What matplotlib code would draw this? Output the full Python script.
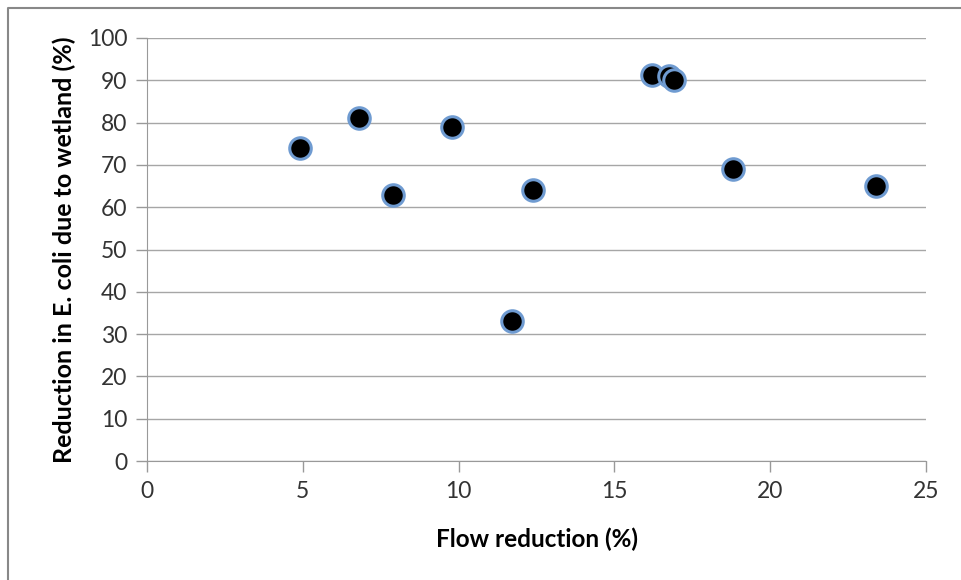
import matplotlib.pyplot as plt
from matplotlib.lines import Line2D

# data
flow_reduction = [4.9, 6.8, 7.9, 9.8, 11.7, 12.4, 16.2, 16.75, 16.9, 18.8, 23.4]
ecoli_reduction = [74, 81, 63, 79, 33, 64, 91.3, 91, 90, 69, 65]
x_ticks = [0, 5, 10, 15, 20, 25]
y_ticks = list(range(0, 101, 10))

plt.rcParams['font.family'] = ['Lato', 'DejaVu Sans']

fig = plt.figure(figsize=(9.61, 5.80), dpi=100)
ax = fig.add_axes([0.153, 0.205, 0.8107, 0.7295])

ax.scatter(flow_reduction, ecoli_reduction, s=240, c='black',
           edgecolors='#6f9bd1', linewidths=2.2, zorder=3)

ax.set_xlim(0, 25)
ax.set_ylim(0, 100)
ax.set_xticks(x_ticks)
ax.set_yticks(y_ticks)
ax.grid(axis='y', color='#a6a6a6', linewidth=1)
ax.set_axisbelow(True)

for side in ('top', 'right'):
    ax.spines[side].set_visible(False)
for side in ('left', 'bottom'):
    ax.spines[side].set_color('#999999')
ax.tick_params(direction='out', length=8, width=1, color='#999999',
               labelsize=16.5, labelcolor='#333333', pad=6)

ax.set_xlabel('Flow reduction (%)', fontsize=17.5, fontweight='bold', labelpad=19)
ax.set_ylabel('Reduction in E. coli due to wetland (%)', fontsize=18,
              fontweight='bold', labelpad=9)

# outer chart border (only left and top visible in the crop)
fig.add_artist(Line2D([8 / 961, 8 / 961, 1], [0, 1 - 8 / 580, 1 - 8 / 580],
                      transform=fig.transFigure, color='#888888', linewidth=1.5))

fig.savefig('out.png', dpi=100, facecolor='white')
